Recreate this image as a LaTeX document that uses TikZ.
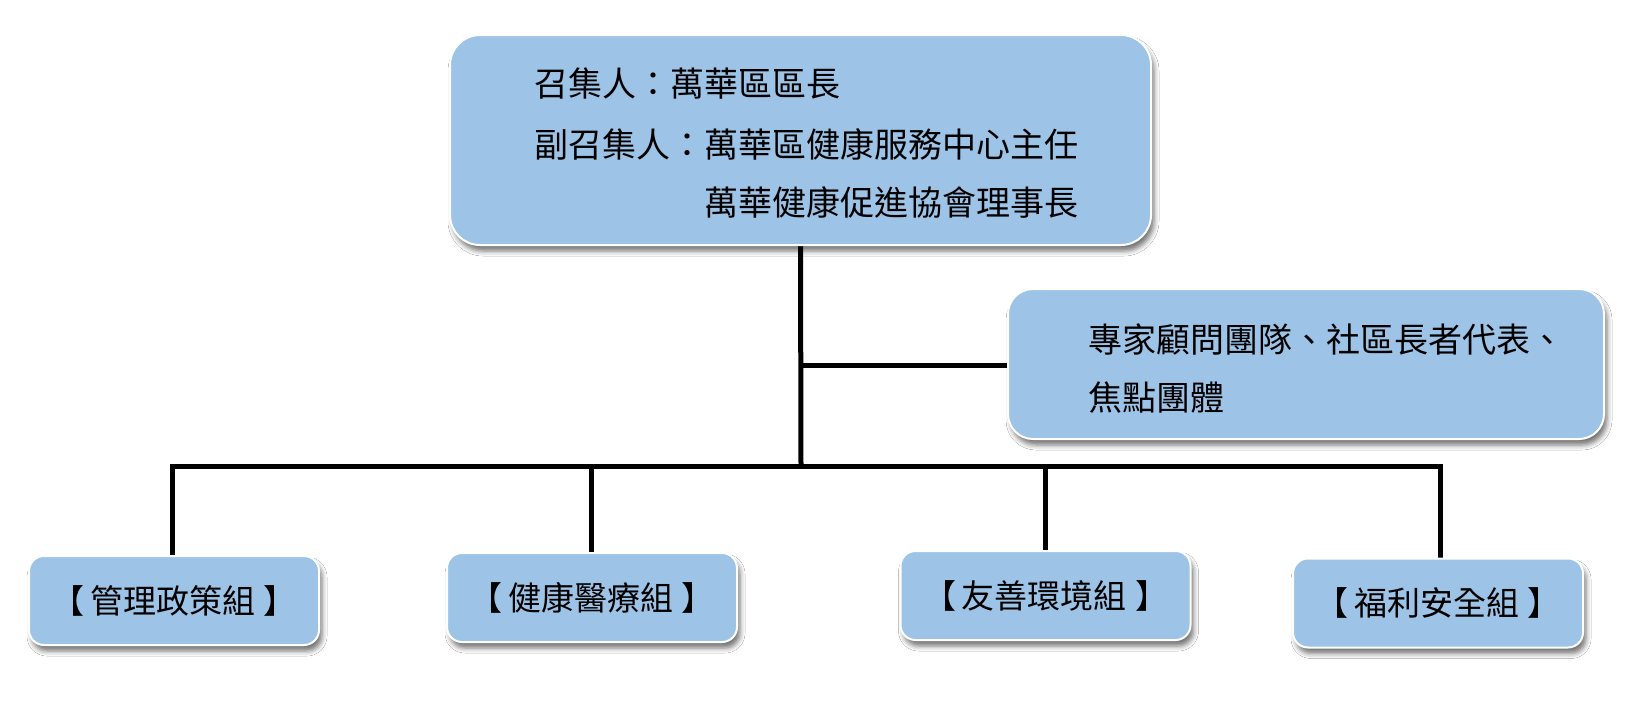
\documentclass[tikz,border=0pt]{standalone}
\usepackage{fontspec}
\newfontfamily\cjk{Noto Sans CJK TC}
\usetikzlibrary{shadows.blur,backgrounds}
\definecolor{boxblue}{RGB}{157,195,230}
\newcommand{\grp}[1]{【\hspace{6pt}#1\hspace{8pt}】}
\begin{document}
\begin{tikzpicture}[x=1pt,y=-1pt,
  box/.style={draw=white, line width=2pt, fill=boxblue,
    blur shadow={shadow xshift=3pt, shadow yshift=-6pt, shadow blur radius=5pt, shadow opacity=55}},
  topbox/.style={box, rounded corners=30pt, minimum width=701pt, minimum height=210pt},
  sidebox/.style={box, rounded corners=25pt, minimum width=596pt, minimum height=150pt},
  groupbox/.style={box, rounded corners=15pt, minimum width=290pt, minimum height=89pt,
    font=\cjk\fontsize{33}{38}\selectfont, text=black},
  txt/.style={font=\cjk\fontsize{34}{40}\selectfont, inner sep=0pt, anchor=west, text=black},
  conn/.style={line width=5pt, black}]
\useasboundingbox (0,0) rectangle (1650,707);

\node[topbox] (top) at (800.5,140) {};
\node[txt] (t1) at (534,84) {召集人：萬華區區長};
\node[txt] (t2) at (534,144) {副召集人：萬華區健康服務中心主任};
\node[txt] (t3) at (704,202) {萬華健康促進協會理事長};

\node[sidebox] (side) at (1306,364) {};
\node[txt] (s1) at (1088,339) {專家顧問團隊、社區長者代表、};
\node[txt] (s2) at (1088,398) {焦點團體};

\node[groupbox] (g1) at (174,600.5) {\grp{管理政策組}};
\node[groupbox] (g2) at (592,597.5) {\grp{健康醫療組}};
\node[groupbox] (g3) at (1045.5,595.5) {\grp{友善環境組}};
\node[groupbox] (g4) at (1438,603) {\grp{福利安全組}};

\coordinate (j1) at (801,365);
\coordinate (j2) at (801,466);
\coordinate (b1) at (172,466);
\coordinate (b2) at (591,466);
\coordinate (b3) at (1045,466);
\coordinate (b4) at (1440,466);

\begin{scope}[on background layer]
\fill[white] (0,0) rectangle (1650,707);
\draw[conn] (top.south) -- (j2);
\draw[conn] (j1) -- (side.west |- j1);
\draw[conn, line cap=rect] (b1) -- (b4);
\draw[conn] (b1) -- (b1 |- g1.north);
\draw[conn] (b2) -- (b2 |- g2.north);
\draw[conn] (b3) -- (b3 |- g3.north);
\draw[conn] (b4) -- (b4 |- g4.north);
\end{scope}
\end{tikzpicture}
\end{document}
